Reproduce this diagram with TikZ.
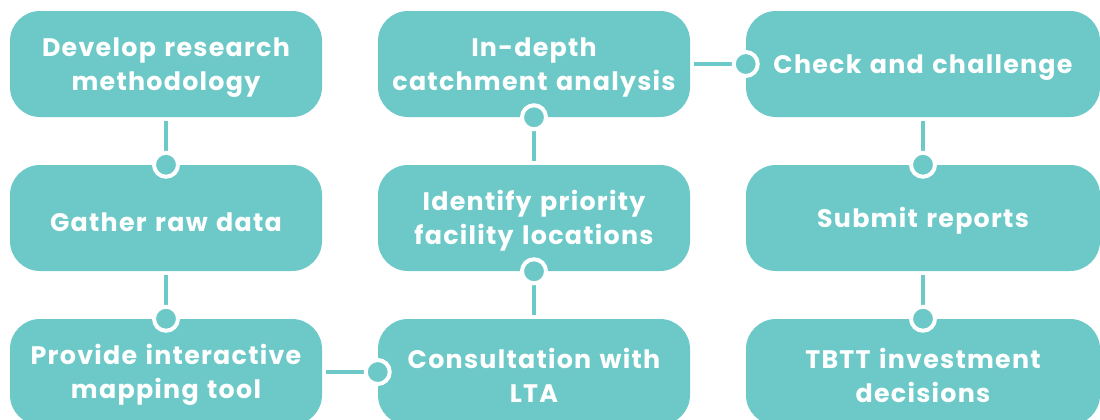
\documentclass[tikz,border=0pt]{standalone}
\usepackage{fontspec}
\setmainfont{Poppins}[LetterSpace=5]
\usetikzlibrary{positioning}
\definecolor{teal1}{RGB}{108,201,200}

\tikzset{
    stepbox/.style={rectangle,rounded corners=22.5pt,fill=teal1,text=white,
        minimum width=234pt,minimum height=79.5pt,text width=225pt,align=center,
        inner sep=0pt,font=\fontsize{19}{25.5}\selectfont\bfseries,
        execute at begin node={\rule{0pt}{20pt}}},
    widebox/.style={minimum width=265.5pt},
    link/.style={teal1,line width=3pt,shorten <=3pt},
    dot/.style={circle,fill=teal1,draw=white,line width=3pt,minimum size=18pt,inner sep=0pt}
}

\begin{document}
\begin{tikzpicture}[x=0.75pt,y=-0.75pt]
    \useasboundingbox (0,0) rectangle (1100,419);

    % first column
    \node[stepbox] (method) at (166,64) {Develop research\\methodology};
    \node[stepbox] (gather) at (166,218) {Gather raw data};
    \node[stepbox] (tool) at (166,372) {Provide interactive\\mapping tool};

    % second column, read bottom to top
    \node[stepbox] (consult) at (534,372) {Consultation with\\LTA};
    \node[stepbox] (priority) at (534,218) {Identify priority\\facility locations};
    \node[stepbox] (catch) at (534,64) {In-depth\\catchment analysis};

    % third column
    \node[stepbox,widebox] (check) at (923,64) {Check and challenge};
    \node[stepbox,widebox] (submit) at (923,218) {Submit reports};
    \node[stepbox,widebox] (invest) at (923,372) {TBTT investment\\decisions};

    % connectors, the dot sits on the box that comes next
    \draw[link] (method.south) -- (gather.north) node[dot] {};
    \draw[link] (gather.south) -- (tool.north) node[dot] {};
    \draw[link] (tool.east) -- (consult.west) node[dot] {};
    \draw[link] (consult.north) -- (priority.south) node[dot] {};
    \draw[link] (priority.north) -- (catch.south) node[dot] {};
    \draw[link] (catch.east) -- (check.west) node[dot] {};
    \draw[link] (check.south) -- (submit.north) node[dot] {};
    \draw[link] (submit.south) -- (invest.north) node[dot] {};
\end{tikzpicture}
\end{document}
